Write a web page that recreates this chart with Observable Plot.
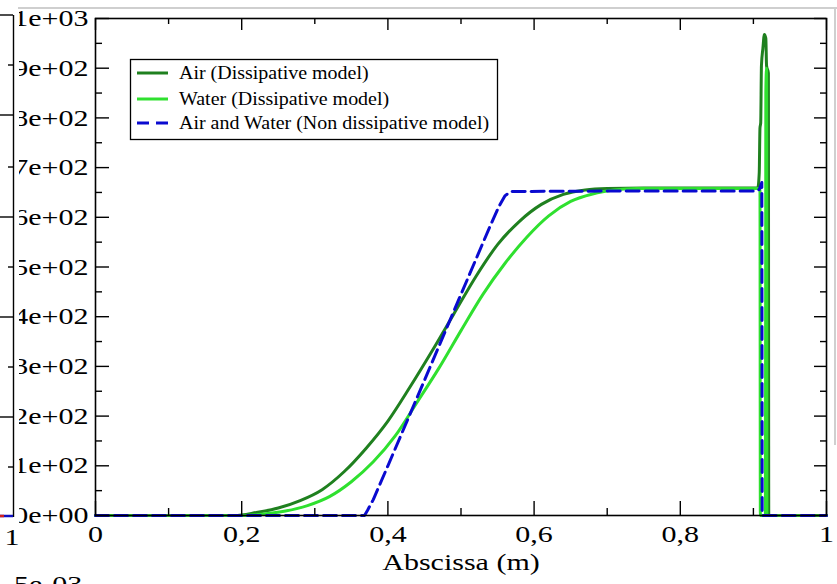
<!DOCTYPE html>
<html><head><meta charset="utf-8">
<script src="https://cdn.jsdelivr.net/npm/d3@7"></script>
<script src="https://cdn.jsdelivr.net/npm/@observablehq/plot@0.6"></script>
<style>
html,body{margin:0;padding:0;background:#fff;}
#wrap{position:relative;width:837px;height:584px;overflow:hidden;background:#fff;}
#chart{position:absolute;left:0;top:0;}
#deco{position:absolute;left:0;top:0;}
</style></head><body>
<div id="wrap"><div id="chart"></div><svg id="deco" width="837" height="584"></svg></div>
<script>
// ---- data ----
const seriesNames = ["Air (Dissipative model)", "Water (Dissipative model)", "Air and Water (Non dissipative model)"];
const seriesColors = ["#1f801f", "#2fe02f", "#0a0ad0"];

const airX = [0, 0.19, 0.22, 0.25, 0.28, 0.31, 0.34, 0.37, 0.40, 0.43, 0.46, 0.49, 0.52, 0.55, 0.58, 0.61, 0.64, 0.67, 0.70, 0.75, 0.85, 0.906, 0.908, 0.909, 0.910, 0.911, 0.913, 0.915, 0.917, 0.918, 0.9205, 0.921, 1];
const airV = [0, 0, 6, 15, 30, 52, 88, 135, 190, 258, 330, 405, 480, 545, 592, 626, 646, 655, 658, 659, 659, 659, 690, 780, 790, 905, 940, 968, 960, 905, 890, 0, 0];

const waterX = [0, 0.20, 0.23, 0.26, 0.29, 0.32, 0.35, 0.38, 0.41, 0.44, 0.47, 0.50, 0.53, 0.56, 0.59, 0.62, 0.65, 0.68, 0.71, 0.74, 0.85, 0.909, 0.9095, 0.9165, 0.917, 0.918, 0.9185, 1];
const waterV = [0, 0, 3, 9, 20, 38, 68, 108, 160, 228, 297, 372, 445, 507, 560, 603, 632, 647, 655, 658, 658, 658, 0, 0, 850, 900, 0, 0];

const nonX = [0, 0.368, 0.372, 0.38, 0.40, 0.45, 0.50, 0.54, 0.552, 0.560, 0.568, 0.75, 0.905, 0.908, 0.910, 0.9115, 0.912, 1];
const nonV = [0, 0, 10, 32, 100, 272, 445, 583, 622, 643, 652, 653, 653, 656, 664, 670, 0, 0];

const yTicks = [0, 100, 200, 300, 400, 500, 600, 700, 800, 900, 1000];
const yTickLabels = ["0e+00", "1e+02", "2e+02", "3e+02", "4e+02", "5e+02", "6e+02", "7e+02", "8e+02", "9e+02", "1e+03"];
const yMinor = [50, 150, 250, 350, 450, 550, 650, 750, 850, 950];
const xTicks = [0, 0.2, 0.4, 0.6, 0.8, 1];
const xTickLabels = ["0", "0,2", "0,4", "0,6", "0,8", "1"];
const xMinor = [0.1, 0.3, 0.5, 0.7, 0.9];
const xLabel = "Abscissa (m)";

// ---- build ----
const toRows = (xs, vs) => xs.map((x, i) => ({x, v: vs[i]}));
const airData = toRows(airX, airV);
const waterData = toRows(waterX, waterV);
const nonData = toRows(nonX, nonV);

const W = 837, H = 584, mL = 95, mR = 11, mT = 18, mB = 69;
const pw = W - mL - mR, ph = H - mT - mB;
const FONT = "'Liberation Serif', 'Times New Roman', serif";
const tickStyle = {stroke: "#000", strokeWidth: 1.4};

const plot = Plot.plot({
  width: W, height: H,
  marginLeft: mL, marginRight: mR, marginTop: mT, marginBottom: mB,
  x: {domain: [0, 1]},
  y: {domain: [0, 1000]},
  style: {fontFamily: FONT, fontSize: "24px", color: "#000", background: "transparent", overflow: "visible"},
  marks: [
    Plot.line(airData, {x: "x", y: "v", stroke: seriesColors[0], strokeWidth: 3, curve: "monotone-x"}),
    Plot.line(waterData, {x: "x", y: "v", stroke: seriesColors[1], strokeWidth: 3, curve: "monotone-x"}),
    Plot.line(nonData, {x: "x", y: "v", stroke: seriesColors[2], strokeWidth: 3, strokeDasharray: "13,6"}),
    Plot.frame({stroke: "#000", strokeWidth: 1.6}),
    Plot.tickY(yTicks, {y: d => d, insetRight: pw - 14, ...tickStyle}),
    Plot.tickY(yMinor, {y: d => d, insetRight: pw - 7, ...tickStyle}),
    Plot.tickY(yTicks, {y: d => d, insetLeft: pw - 12, ...tickStyle}),
    Plot.tickY(yMinor, {y: d => d, insetLeft: pw - 6, ...tickStyle}),
    Plot.tickX(xTicks, {x: d => d, insetTop: ph - 14, ...tickStyle}),
    Plot.tickX(xMinor, {x: d => d, insetTop: ph - 7, ...tickStyle}),
    Plot.tickX(xTicks, {x: d => d, insetBottom: ph - 12, ...tickStyle}),
    Plot.tickX(xMinor, {x: d => d, insetBottom: ph - 6, ...tickStyle}),
    Plot.axisY(yTicks, {tickSize: 0, tickPadding: 7, tickFormat: d => yTickLabels[yTicks.indexOf(d)], label: null, fontSize: 24}),
    Plot.axisX(xTicks, {tickSize: 0, tickPadding: 9, tickFormat: d => xTickLabels[xTicks.indexOf(d)], label: null, fontSize: 24}),
    Plot.text([xLabel], {frameAnchor: "bottom", dy: 54, text: d => d, fontSize: 24})
  ]
});
document.getElementById("chart").appendChild(plot);

// horizontal stretch of text about its anchor (the reference screenshot is widened)
function stretch(root, sx) {
  root.querySelectorAll("text").forEach(t => {
    const x = t.getAttribute("x");
    let tr = t.getAttribute("transform") || "";
    if (x !== null && !isNaN(+x)) {
      tr += ` translate(${+x},0)`;
      t.removeAttribute("x");
    }
    t.setAttribute("transform", `${tr} scale(${sx},1)`);
  });
}
stretch(plot, 1.25);

// ---- decorations from neighbouring panels of the screenshot + legend ----
const deco = d3.select("#deco");
deco.append("rect").attr("x", 0).attr("y", 0).attr("width", 19).attr("height", H).attr("fill", "#fff");
deco.append("line").attr("x1", 13.5).attr("x2", 13.5).attr("y1", 15).attr("y2", 517).attr("stroke", "#000").attr("stroke-width", 1.4);
[15, 115, 217, 317, 417].forEach(y => deco.append("line").attr("x1", 0).attr("x2", 13).attr("y1", y).attr("y2", y).attr("stroke", "#000").attr("stroke-width", 1.4));
[65, 167, 267, 367, 467].forEach(y => deco.append("line").attr("x1", 8).attr("x2", 13).attr("y1", y).attr("y2", y).attr("stroke", "#000").attr("stroke-width", 1.4));
deco.append("line").attr("x1", 0).attr("x2", 13).attr("y1", 516).attr("y2", 516).attr("stroke", "#1010c0").attr("stroke-width", 2.5);
deco.append("line").attr("x1", 0).attr("x2", 4).attr("y1", 516).attr("y2", 516).attr("stroke", "#d02020").attr("stroke-width", 2.5);
deco.append("text").attr("x", 12).attr("y", 545).attr("text-anchor", "middle").attr("font-family", FONT).attr("font-size", 24).text("1");
deco.append("text").attr("x", 4).attr("y", 592).attr("font-family", FONT).attr("font-size", 24).text("-5e-03");
deco.append("line").attr("x1", 18).attr("x2", 837).attr("y1", 8).attr("y2", 8).attr("stroke", "#cfcfcf").attr("stroke-width", 2);
deco.append("line").attr("x1", 835).attr("x2", 835).attr("y1", 8).attr("y2", 445).attr("stroke", "#cfcfcf").attr("stroke-width", 2);
stretch(deco.node(), 1.25);

// legend
const lg = deco.append("g");
lg.append("rect").attr("x", 130.5).attr("y", 59.5).attr("width", 367).attr("height", 80).attr("fill", "#fff").attr("stroke", "#000").attr("stroke-width", 1.3);
const rowsY = [73, 99, 123];
seriesNames.forEach((name, i) => {
  lg.append("line").attr("x1", 137).attr("x2", 168).attr("y1", rowsY[i]).attr("y2", rowsY[i])
    .attr("stroke", seriesColors[i]).attr("stroke-width", 3)
    .attr("stroke-dasharray", i === 2 ? "12,7" : null);
  lg.append("text").attr("x", 179).attr("y", rowsY[i] + 6).attr("font-family", FONT).attr("font-size", 18).text(name);
});
stretch(lg.node(), 1.11);
</script>
</body></html>
